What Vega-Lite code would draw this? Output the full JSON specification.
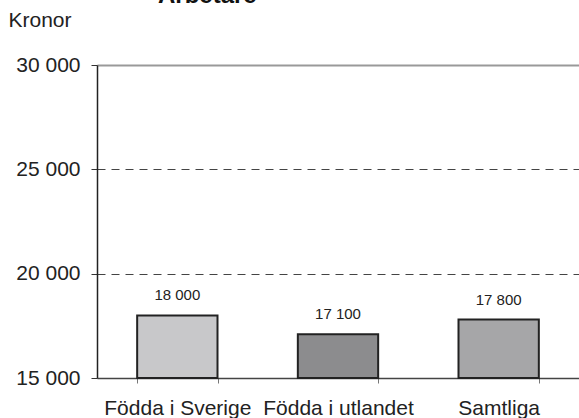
{
  "$schema": "https://vega.github.io/schema/vega-lite/v6.json",
  "autosize": "none",
  "width": 482,
  "height": 313,
  "padding": {"left": 97, "top": 65, "right": 0, "bottom": 40},
  "background": "white",
  "title": {
    "text": "Arbetare",
    "anchor": "start",
    "frame": "group",
    "dx": 61,
    "dy": 26,
    "fontSize": 24,
    "fontWeight": "bold",
    "font": "Liberation Sans",
    "color": "#111",
    "baseline": "alphabetic",
    "offset": 8
  },
  "data": {
    "values": [
      {"grupp": "Födda i Sverige", "kronor": 18000},
      {"grupp": "Födda i utlandet", "kronor": 17100},
      {"grupp": "Samtliga", "kronor": 17800}
    ]
  },
  "encoding": {
    "x": {
      "field": "grupp",
      "type": "nominal",
      "sort": null,
      "scale": {"paddingInner": 0.5, "paddingOuter": 0.25},
      "axis": {
        "title": null,
        "labelAngle": 0,
        "tickBand": "extent",
        "labelFontSize": 21,
        "labelFont": "Liberation Sans",
        "labelColor": "#222",
        "labelPadding": 14,
        "tickSize": 5,
        "tickColor": "#777",
        "domainColor": "#444",
        "domainWidth": 1.5,
        "grid": false
      }
    },
    "y": {
      "field": "kronor",
      "type": "quantitative",
      "scale": {"domain": [15000, 30000], "zero": false, "nice": false, "clamp": true},
      "axis": {
        "title": "Kronor",
        "titleAngle": 0,
        "titleAlign": "left",
        "titleBaseline": "alphabetic",
        "titleX": -89,
        "titleY": -39,
        "titleFontSize": 21,
        "titleFontWeight": "normal",
        "titleFont": "Liberation Sans",
        "titleColor": "#222",
        "values": [15000, 20000, 25000, 30000],
        "labelExpr": "replace(format(datum.value, ','), ',', ' ')",
        "labelFontSize": 21,
        "labelFont": "Liberation Sans",
        "labelColor": "#222",
        "labelPadding": 11,
        "tickSize": 6,
        "tickColor": "#333",
        "domainColor": "#222",
        "domainWidth": 1.5,
        "grid": true,
        "gridColor": {"condition": {"test": "datum.value === 30000", "value": "#999"}, "value": "#444"},
        "gridWidth": {"condition": {"test": "datum.value === 30000", "value": 2}, "value": 1},
        "gridDash": {"condition": {"test": "datum.value === 30000", "value": []}, "value": [8, 6]},
        "gridOpacity": {"condition": {"test": "datum.value === 15000", "value": 0}, "value": 1}
      }
    }
  },
  "layer": [
    {
      "mark": {"type": "bar", "stroke": "#222", "strokeWidth": 2},
      "encoding": {
        "y2": {"datum": 15000},
        "color": {
          "field": "grupp",
          "type": "nominal",
          "scale": {
            "domain": ["Födda i Sverige", "Födda i utlandet", "Samtliga"],
            "range": ["#c8c8ca", "#8c8c8e", "#a6a6a8"]
          },
          "legend": null
        }
      }
    },
    {
      "transform": [
        {"calculate": "replace(format(datum.kronor, ','), ',', ' ')", "as": "etikett"}
      ],
      "mark": {
        "type": "text",
        "dy": -15,
        "baseline": "alphabetic",
        "fontSize": 15,
        "font": "Liberation Sans",
        "color": "#222"
      },
      "encoding": {
        "text": {"field": "etikett", "type": "nominal"}
      }
    }
  ],
  "config": {
    "view": {"stroke": null}
  }
}
